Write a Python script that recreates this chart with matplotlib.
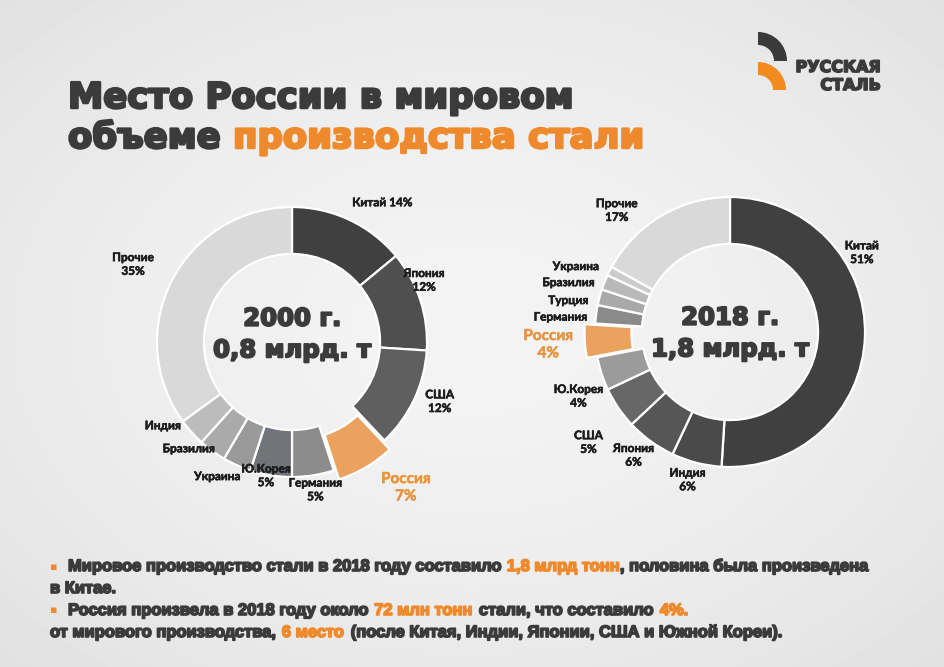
"""Место России в мировом производстве стали: два кольца 2000 г. и 2018 г."""

import matplotlib

matplotlib.use("Agg")
import matplotlib.pyplot as plt  # noqa: E402
import matplotlib.patheffects as pe  # noqa: E402
import numpy as np  # noqa: E402
from matplotlib.patches import Wedge  # noqa: E402

W, H = 944, 667
DARK = "#3b3b3b"
ORANGE = "#ef8a2c"
RUS_SLICE = "#eca25f"
LABEL_FONT = ["Lato", "DejaVu Sans"]
HEAVY_FONT = ["DejaVu Sans"]
NARROW_FONT = ["Liberation Sans Narrow", "Liberation Sans", "DejaVu Sans"]

# --- данные: 2000 г. (по часовой стрелке от 12 часов)
countries_2000 = ["Китай", "Япония", "США", "Россия", "Германия", "Ю.Корея",
                  "Украина", "Бразилия", "Индия", "Прочие"]
shares_2000 = [14, 12, 12, 7, 5, 5, 3.4, 3.3, 3.3, 35]
labels_2000 = ["Китай 14%", "Япония\n12%", "США\n12%", "Россия\n7%", "Германия\n5%",
               "Ю.Корея\n5%", "Украина", "Бразилия", "Индия", "Прочие\n35%"]
colors_2000 = ["#404040", "#4f4f4f", "#5f5f5f", RUS_SLICE, "#8c8c8c", "#71757a",
               "#9a9a9a", "#aaaaaa", "#bcbcbc", "#d9d9d9"]

# --- данные: 2018 г.
countries_2018 = ["Китай", "Индия", "Япония", "США", "Ю.Корея", "Россия",
                  "Германия", "Турция", "Бразилия", "Украина", "Прочие"]
shares_2018 = [51, 6, 6, 5, 4, 4, 2.2, 1.9, 1.8, 1.1, 17]
labels_2018 = ["Китай\n51%", "Индия\n6%", "Япония\n6%", "США\n5%", "Ю.Корея\n4%",
               "Россия\n4%", "Германия", "Турция", "Бразилия", "Украина", "Прочие\n17%"]
colors_2018 = ["#404040", "#4a4a4a", "#565656", "#676767", "#9b9b9b", RUS_SLICE,
               "#8a8a8a", "#a9a9a9", "#b9b9b9", "#cbcbcb", "#d9d9d9"]

# положение подписей: (радиус в долях R, угол по часовой от 12 ч)
lpos_2000 = [(1.23, 33), (1.08, 65), (1.18, 112), (1.37, 142), (1.11, 171),
             (1.01, 191), (1.14, 209), (1.10, 224), (1.14, 237), (1.31, 296)]
lpos_2018 = [(1.14, 59), (1.14, 196), (1.16, 218), (1.33, 232), (1.22, 247),
             (1.35, 266), (1.26, 275), (1.22, 281), (1.25, 287), (1.24, 293), (1.23, 317)]


def heavy(col, lw):
    return [pe.withStroke(linewidth=lw, foreground=col)]


def px_axes(cx, cy, half=150):
    """Квадратная ось half*2 пикселей с центром в (cx, cy) (координаты картинки)."""
    return fig.add_axes([(cx - half) / W, (H - cy - half) / H, 2 * half / W, 2 * half / H])


def donut(ax, shares, colors, labels, lpos, countries, title, title_dy=0.0):
    R = 0.9
    explode = [0.07 if c == "Россия" else 0 for c in countries]
    ax.pie(shares, colors=colors, radius=R, startangle=90, counterclock=False,
           explode=explode, wedgeprops=dict(width=0.313, edgecolor="white", linewidth=1.6))
    for lab, (r, a), c in zip(labels, lpos, countries):
        t = np.deg2rad(a)
        x, y = r * R * np.sin(t), r * R * np.cos(t)
        rus = c == "Россия"
        col = "#ea9440" if rus else "#1c1c1c"
        ax.text(x, y, lab, ha="center", va="center", linespacing=1.3,
                fontsize=11 if rus else 8.5, fontweight="bold",
                color=col, family=LABEL_FONT, path_effects=heavy(col, 0.4))
    ax.text(0, title_dy, title, ha="center", va="center", fontsize=17.5, fontweight="bold",
            color=DARK, family=HEAVY_FONT, linespacing=1.4, path_effects=heavy(DARK, 1.4))
    ax.set_xlim(-1, 1)
    ax.set_ylim(-1, 1)
    ax.axis("off")


def rich_line(ax, x, y, parts, size):
    """Строка из кусков разного цвета; кусок с ведущим пробелом отделяется пробелом."""
    prev = None
    for txt, col in parts:
        gap = 0.42 * size if txt.startswith(" ") else 0.5
        kw = dict(color=col, fontsize=size, fontweight="bold", family=NARROW_FONT,
                  ha="left", path_effects=heavy(col, 1.2))
        if prev is None:
            prev = ax.text(x, H - y, txt.strip(), va="baseline", **kw)
        else:
            prev = ax.annotate(txt.strip(), xy=(1, 0), xycoords=prev,
                               xytext=(gap, 0), textcoords="offset points",
                               va="bottom", **kw)


fig = plt.figure(figsize=(W / 100, H / 100), dpi=100)

# фон с мягким радиальным градиентом
bg = fig.add_axes([0, 0, 1, 1], zorder=-10)
yy, xx = np.mgrid[0:H, 0:W]
d = np.hypot((xx - 470) / W, (yy - 330) / H)
bg.imshow(0.955 - 0.12 * d ** 1.5, cmap="gray", vmin=0, vmax=1, aspect="auto",
          extent=[0, W, 0, H])
bg.set_xlim(0, W)
bg.set_ylim(0, H)
bg.axis("off")

donut(px_axes(292, 342), shares_2000, colors_2000, labels_2000, lpos_2000,
      countries_2000, "2000 г.\n0,8 млрд. т", title_dy=0.05)
donut(px_axes(730, 332), shares_2018, colors_2018, labels_2018, lpos_2018,
      countries_2018, "2018 г.\n1,8 млрд. т", title_dy=-0.01)

# заголовок
tkw = dict(fontsize=25.5, fontweight="bold", family=HEAVY_FONT)
bg.text(68, H - 108, "Место России в мировом", color=DARK, va="baseline",
        path_effects=heavy(DARK, 1.8), **tkw)
t1 = bg.text(68, H - 148, "объеме", color=DARK, va="baseline",
             path_effects=heavy(DARK, 1.8), **tkw)
bg.annotate("производства стали", xy=(1, 0), xycoords=t1, xytext=(9, 0),
            textcoords="offset points", color=ORANGE, va="bottom",
            path_effects=heavy(ORANGE, 1.8), **tkw)

# логотип
bg.add_patch(Wedge((758, H - 61), 29, 0, 90, width=13, color="#3a3a3a", lw=0))
bg.add_patch(Wedge((758, H - 90), 28, 0, 90, width=13, color="#f28a1e", lw=0))
lkw = dict(fontsize=11.5, fontweight="bold", color=DARK, family=HEAVY_FONT,
           ha="right", va="baseline", path_effects=heavy(DARK, 1.2))
bg.text(881, H - 72, "РУССКАЯ", **lkw)
bg.text(881, H - 90, "СТАЛЬ", **lkw)

# текст внизу
fs = 11.9
for yb in (571, 614):
    bg.text(50, H - yb + 1, "▪", fontsize=8, color=ORANGE, ha="left", va="baseline")
rich_line(bg, 68, 571, [("Мировое производство стали в 2018 году составило", DARK),
                        (" 1,8 млрд тонн", ORANGE),
                        (", половина была произведена", DARK)], fs)
rich_line(bg, 50, 593, [("в Китае.", DARK)], fs)
rich_line(bg, 68, 615, [("Россия произвела в 2018 году около", DARK),
                        (" 72 млн тонн", ORANGE),
                        (" стали, что составило", DARK),
                        (" 4%.", ORANGE)], fs)
rich_line(bg, 50, 637, [("от мирового производства,", DARK),
                        (" 6 место", ORANGE),
                        (" (после Китая, Индии, Японии, США и Южной Кореи).", DARK)], fs)

fig.savefig("out.png", dpi=100)
